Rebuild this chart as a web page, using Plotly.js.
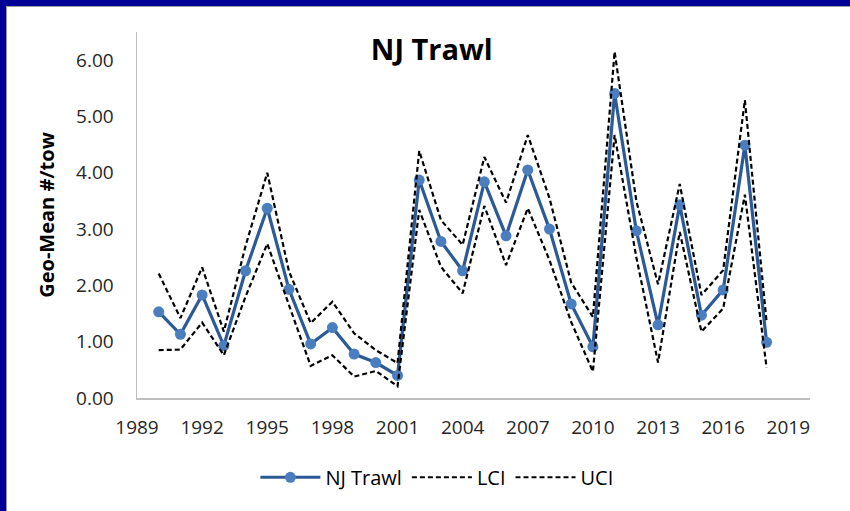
<!DOCTYPE html>
<html>
<head>
<meta charset="utf-8">
<script src="https://cdn.plot.ly/plotly-3.0.1.min.js"></script>
<style>
  html, body { margin: 0; padding: 0; background: #ffffff; }
  #wrap { position: relative; width: 850px; height: 511px; overflow: hidden; }
  #chart { position: absolute; left: 0; top: 0; width: 850px; height: 511px; }
  .band { position: absolute; pointer-events: none; }
</style>
</head>
<body>
<div id="wrap">
  <div id="chart"></div>
  <div class="band" style="left:0;top:0;width:850px;height:6px;background:#000096;"></div>
  <div class="band" style="left:0;top:0;width:6px;height:511px;background:#000096;"></div>
  <div class="band" style="left:6px;top:6px;width:844px;height:1px;background:#9a9a9a;"></div>
  <div class="band" style="left:6px;top:6px;width:1px;height:505px;background:#9a9a9a;"></div>
</div>
<script>
// ---- data ----
const years = [1990, 1991, 1992, 1993, 1994, 1995, 1996, 1997, 1998, 1999,
               2000, 2001, 2002, 2003, 2004, 2005, 2006, 2007, 2008, 2009,
               2010, 2011, 2012, 2013, 2014, 2015, 2016, 2017, 2018];
const njTrawl = [1.53, 1.13, 1.83, 0.93, 2.26, 3.37, 1.93, 0.96, 1.25, 0.78,
                 0.63, 0.40, 3.87, 2.78, 2.26, 3.84, 2.88, 4.05, 3.00, 1.67,
                 0.91, 5.41, 2.97, 1.30, 3.43, 1.47, 1.92, 4.49, 0.99];
const lci = [0.85, 0.86, 1.34, 0.76, 1.80, 2.74, 1.65, 0.57, 0.76, 0.38,
             0.48, 0.21, 3.34, 2.33, 1.86, 3.41, 2.36, 3.37, 2.45, 1.35,
             0.47, 4.67, 2.50, 0.63, 2.95, 1.18, 1.59, 3.61, 0.54];
const uci = [2.21, 1.42, 2.32, 1.18, 2.70, 4.00, 2.25, 1.33, 1.71, 1.15,
             0.85, 0.62, 4.39, 3.16, 2.72, 4.28, 3.47, 4.67, 3.55, 2.05,
             1.44, 6.15, 3.50, 2.02, 3.80, 1.83, 2.27, 5.29, 1.35];
const seriesNames = ["NJ Trawl", "LCI", "UCI"];
const chartTitle = "NJ Trawl";
const yTitle = "Geo-Mean #/tow";

const baseFont = "'Open Sans', 'Liberation Sans', sans-serif";

const traces = [
  {
    x: years, y: njTrawl, name: seriesNames[0], type: "scatter", mode: "lines+markers",
    line: { color: "#2C5A97", width: 3.2 },
    marker: { color: "#4A7EBF", size: 11 }
  },
  {
    x: years, y: lci, name: seriesNames[1], type: "scatter", mode: "lines",
    line: { color: "#000000", width: 2.2, dash: "5px,3px" }
  },
  {
    x: years, y: uci, name: seriesNames[2], type: "scatter", mode: "lines",
    line: { color: "#000000", width: 2.2, dash: "5px,3px" }
  }
];

const layout = {
  width: 850, height: 511,
  margin: { l: 137, r: 40, t: 32, b: 113 },
  paper_bgcolor: "#ffffff", plot_bgcolor: "#ffffff",
  font: { family: baseFont, size: 19, color: "#262626" },
  title: {
    text: "<b>" + chartTitle + "</b>",
    font: { family: baseFont, size: 29, color: "#000000" },
    xref: "container", x: 0.508, xanchor: "center",
    yref: "container", y: 0.902, yanchor: "middle"
  },
  xaxis: {
    range: [1989, 2020], tick0: 1989, dtick: 3,
    showgrid: false, zeroline: false,
    showline: true, linecolor: "#BFBFBF", linewidth: 1.5,
    ticks: "outside", ticklen: 12, tickcolor: "rgba(0,0,0,0)",
    tickfont: { family: baseFont, size: 19, color: "#262626" }
  },
  yaxis: {
    range: [0, 6.5], tick0: 0, dtick: 1, tickformat: ".2f",
    showgrid: false, zeroline: false,
    showline: true, linecolor: "#BFBFBF", linewidth: 1.5,
    ticks: "outside", ticklen: 18, tickcolor: "rgba(0,0,0,0)",
    tickfont: { family: baseFont, size: 19, color: "#262626" },
    title: { text: "<b>" + yTitle + "</b>", font: { family: baseFont, size: 20, color: "#000000" }, standoff: 16 }
  },
  showlegend: true,
  legend: {
    orientation: "h",
    itemwidth: 60,
    xref: "container", x: 0.514, xanchor: "center",
    yref: "container", y: 0.066, yanchor: "middle",
    font: { family: baseFont, size: 20, color: "#000000" },
    bgcolor: "rgba(0,0,0,0)"
  }
};

Plotly.newPlot("chart", traces, layout, { displayModeBar: false, staticPlot: true });
</script>
</body>
</html>
